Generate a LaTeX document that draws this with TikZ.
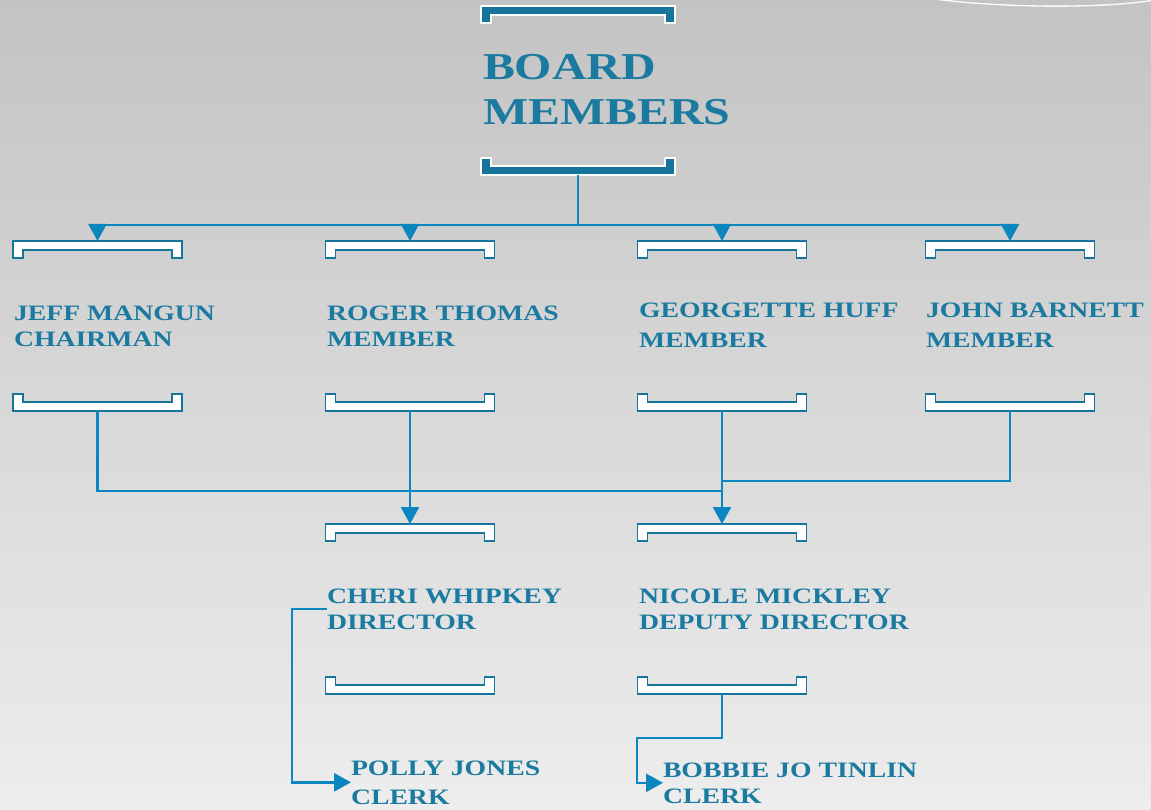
\documentclass[tikz,border=0pt]{standalone}
\usepackage{fontspec}
\setmainfont{Liberation Serif}
\newfontfamily\wide[FakeStretch=1.26]{Liberation Serif}
\usetikzlibrary{arrows.meta,calc}
\definecolor{txtc}{HTML}{1B7AA0}
\definecolor{brc}{HTML}{16759C}
\definecolor{conn}{HTML}{0C86BE}
\definecolor{bgtop}{HTML}{C3C3C3}
\definecolor{bgbot}{HTML}{EDEDED}
\newcommand\brdown[3]{\draw[#3] (#1.north west) -- (#1.north east) -- (#1.south east) -- ++(-10,0) -- ++(0,-8) -- ++(-#2,0) -- ++(0,8) -- (#1.south west) -- cycle;}
\newcommand\brup[3]{\draw[#3] (#1.south west) -- (#1.south east) -- (#1.north east) -- ++(-10,0) -- ++(0,8) -- ++(-#2,0) -- ++(0,-8) -- (#1.north west) -- cycle;}
\begin{document}
\begin{tikzpicture}[x=1pt,y=-1pt,
  slot/.style={minimum width=169pt,minimum height=17pt,inner sep=0pt,outer sep=0pt},
  bigslot/.style={minimum width=194pt,minimum height=17pt,inner sep=0pt,outer sep=0pt},
  smallbr/.style={draw=brc,fill=white,line width=1.8pt},
  bigbr/.style={draw=white,fill=brc,line width=1.8pt},
  persontext/.style={anchor=base west,inner sep=0pt,outer sep=0pt,align=left,text=txtc,
    font=\wide\bfseries\fontsize{22}{26}\selectfont},
  wire/.style={draw=conn,line width=2.6pt},
  arr/.style={wire,-{Triangle[length=17pt,width=18pt]}}]
\useasboundingbox (0,0) rectangle (1151,810);
\shade[top color=bgtop,bottom color=bgbot] (0,0) rectangle (1151,810);
\draw[white,line width=1.4pt,opacity=0.9] (935,-1) .. controls (1000,8) and (1110,9) .. (1160,-1);
% board
\node[bigslot] (bt) at (578,14.5) {};
\node[bigslot] (bb) at (578,166.5) {};
\brdown{bt}{174}{bigbr}
\brup{bb}{174}{bigbr}
\node[persontext,font=\wide\bfseries\fontsize{38}{45}\selectfont] (board) at (483,125) {BOARD\\MEMBERS};
% member brackets
\node[slot] (jt) at (97.5,249.5) {};
\node[slot] (rt) at (410,249.5) {};
\node[slot] (gt) at (722,249.5) {};
\node[slot] (nt) at (1010,249.5) {};
\node[slot] (jb) at (97.5,402.5) {};
\node[slot] (rb) at (410,402.5) {};
\node[slot] (gb) at (722,402.5) {};
\node[slot] (nb) at (1010,402.5) {};
\node[slot] (ct) at (410,532.5) {};
\node[slot] (kt) at (722,532.5) {};
\node[slot] (cb) at (410,685.5) {};
\node[slot] (kb) at (722,685.5) {};
\foreach \n in {jt,rt,gt,nt,ct,kt}{\brdown{\n}{149}{smallbr}}
\foreach \n in {jb,rb,gb,nb,cb,kb}{\brup{\n}{149}{smallbr}}
% names
\node[persontext] (jeff) at (14,346) {JEFF MANGUN\\CHAIRMAN};
\node[persontext] (roger) at (327,346) {ROGER THOMAS\\MEMBER};
\node[persontext,font=\wide\bfseries\fontsize{22}{30}\selectfont] (geo) at (639,347) {GEORGETTE HUFF\\MEMBER};
\node[persontext,font=\wide\bfseries\fontsize{22}{30}\selectfont] (john) at (926,347) {JOHN BARNETT\\MEMBER};
\node[persontext] (cheri) at (327,629) {CHERI WHIPKEY\\DIRECTOR};
\node[persontext] (nicole) at (639,629) {NICOLE MICKLEY\\DEPUTY DIRECTOR};
\node[persontext,font=\wide\bfseries\fontsize{22}{29}\selectfont] (polly) at (351,804) {POLLY JONES\\CLERK};
\node[persontext] (bobbie) at (663,803) {BOBBIE JO TINLIN\\CLERK};
% connectors
\coordinate (hub) at (578,225);
\coordinate (lowbar) at (0,491);
\coordinate (johnbar) at (0,481);
\coordinate (pturn) at (292,609);
\coordinate (bturn) at (637,738);
\draw[wire] (bb.south) -- (hub);
\draw[wire] (jt.north |- hub) -- (nt.north |- hub);
\foreach \n in {jt,rt,gt,nt}{\draw[arr] (\n.north |- hub) -- (\n.north);}
\draw[wire] (jb.south) |- (kt.north |- lowbar);
\draw[wire] (nb.south) |- (kt.north |- johnbar);
\draw[arr] (rb.south) -- (ct.north);
\draw[arr] (gb.south) -- (kt.north);
\draw[arr] (cheri.west |- pturn) -- (pturn) |- (polly.west);
\draw[arr] (kb.south) |- (bturn) |- (bobbie.west);
\end{tikzpicture}
\end{document}
